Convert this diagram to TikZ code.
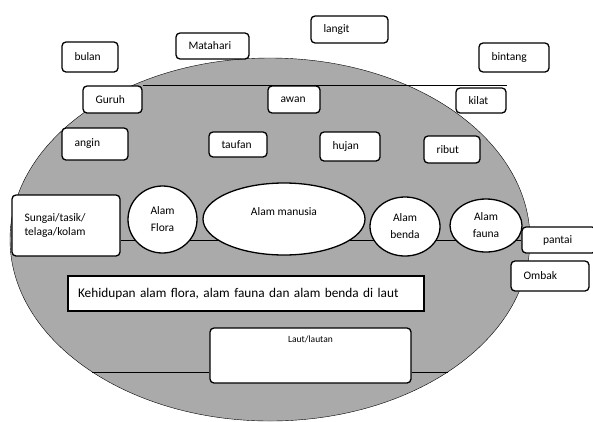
\documentclass[tikz,border=0pt]{standalone}
\usepackage{fontspec}
\setmainfont{Carlito}
\usetikzlibrary{shapes.geometric,backgrounds}
\definecolor{abu}{RGB}{170,170,170}
\hyphenpenalty=10000

\begin{document}
\begin{tikzpicture}[x=1pt,y=-1pt,line width=1.3pt,
	kotak/.style={draw,fill=white,rounded corners=4pt,align=left,inner xsep=12.5pt,inner ysep=0pt,font=\fontsize{11.5}{14}\selectfont},
	alam/.style={draw,fill=white,ellipse,inner sep=0pt,align=center,font=\fontsize{11.5}{17}\selectfont}]
	\useasboundingbox (0,0) rectangle (593,421);

	% kotak di atas
	\node[kotak,text width=31pt,minimum height=30pt] (bulan) at (90,57) {bulan};
	\node[kotak,text width=48pt,minimum height=26pt] (matahari) at (212.5,46) {Matahari};
	\node[kotak,text width=52pt,minimum height=27pt] (langit) at (349.5,29.5) {langit};
	\node[kotak,text width=45pt,minimum height=29pt] (bintang) at (514,57.5) {bintang};

	\node[kotak,text width=34pt,minimum height=27pt] (guruh) at (112.5,99.5) {Guruh};
	\node[kotak,text width=27pt,minimum height=27pt] (awan) at (294,99.5) {awan};
	\node[kotak,text width=25pt,minimum height=25pt] (kilat) at (481,100.5) {kilat};

	\node[kotak,text width=41pt,minimum height=32pt] (angin) at (95,144) {angin};
	\node[kotak,text width=33pt,minimum height=25pt] (taufan) at (238,144.5) {taufan};
	\node[kotak,text width=35pt,minimum height=29pt] (hujan) at (350,146.5) {hujan};
	\node[kotak,text width=31pt,minimum height=27pt] (ribut) at (452,149.5) {ribut};

	% baris alam
	\node[kotak,text width=83pt,minimum height=61pt] (sungai) at (66,225.5) {Sungai/tasik/\\telaga/kolam\\ };
	\node[alam,minimum width=69pt,minimum height=67pt] (flora) at (162.5,219.5) {Alam\\Flora};
	\node[alam,minimum width=162pt,minimum height=72pt] (manusia) at (284,219) {Alam manusia\\[-3pt]~};
	\node[alam,minimum width=70pt,minimum height=59pt] (benda) at (405,226.5) {Alam\\benda};
	\node[alam,minimum width=72pt,minimum height=53pt] (fauna) at (486,225.5) {Alam\\fauna};
	\node[kotak,inner xsep=21pt,text width=32pt,minimum height=26pt] (pantai) at (559,240) {pantai};
	\node[kotak,text width=53pt,minimum height=30pt] (ombak) at (550,276) {Ombak};

	% laut
	\node[kotak,rounded corners=0pt,inner xsep=10pt,text width=336pt,minimum height=35pt,font=\fontsize{13.3}{15}\selectfont] (kehidupan) at (246,293.5) {Kehidupan alam flora, alam fauna dan alam benda di laut};
	\node[kotak,align=center,text width=176pt,minimum height=55pt,font=\fontsize{9.5}{11}\selectfont] (laut) at (310.5,355.5) {Laut/lautan\\~\\~\\~};

	\coordinate (kiri) at (92,372);
	\coordinate (kanan) at (448,372);

	\begin{pgfonlayer}{background}
		\draw[fill=abu] (270,239.5) ellipse [x radius=260pt, y radius=181.5pt];
		\draw (guruh.north east) -- (guruh.north east -| kilat.east);
		\draw (pantai.west) -- (pantai.west -| sungai.east);
		\draw (kiri) -- (kiri -| laut.west);
		\draw (kanan) -- (kanan -| laut.east);
	\end{pgfonlayer}
\end{tikzpicture}
\end{document}
